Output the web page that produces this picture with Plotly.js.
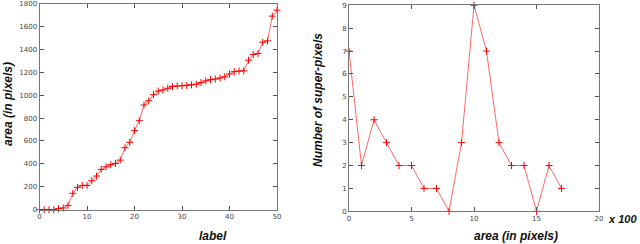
<!DOCTYPE html>
<html>
<head>
<meta charset="utf-8">
<script src="https://cdn.plot.ly/plotly-3.0.1.min.js"></script>
<style>html,body{margin:0;padding:0;background:#fff}#chart{width:640px;height:244px}</style>
</head>
<body>
<div id="chart"></div>
<script>
// Left chart: sorted super-pixel areas by label
const labels = [];
for (let i = 0; i <= 50; i++) labels.push(i);
const areas = [0,0,0,0,9,15,38,143,195,212,212,253,294,352,375,393,404,433,541,588,
  690,777,914,951,1004,1036,1045,1060,1075,1080,1082,1085,1090,1095,1110,1125,1135,1140,1150,1160,
  1185,1205,1210,1212,1305,1355,1364,1462,1474,1690,1742];
const leftYTicks = [0,200,400,600,800,1000,1200,1400,1600,1800];
const leftXTicks = [0,10,20,30,40,50];

// Right chart: histogram of areas (x 100 pixels)
const bins = [0,1,2,3,4,5,6,7,8,9,10,11,12,13,14,15,16,17];
const counts = [7,2,4,3,2,2,1,1,0,3,9,7,3,2,2,0,2,1];
const rightYTicks = [0,1,2,3,4,5,6,7,8,9];
const rightXTicks = [0,5,10,15,20];

const lineStyle = {color:'rgba(255,40,40,0.7)', width:1};
const markerStyle = {symbol:'cross-thin', size:5, color:'#ff0000', line:{color:'#ff0000', width:1}};

const traces = [
  {x:labels, y:areas, type:'scatter', mode:'lines+markers', line:lineStyle, marker:markerStyle, xaxis:'x', yaxis:'y', hoverinfo:'none', cliponaxis:false},
  {x:bins, y:counts, type:'scatter', mode:'lines+markers', line:lineStyle, marker:markerStyle, xaxis:'x2', yaxis:'y2', hoverinfo:'none', cliponaxis:false}
];

const tickFont = {family:'DejaVu Sans, Verdana, sans-serif', size:7, color:'#444'};
const axBase = {showgrid:false, zeroline:false, showline:true, linecolor:'#777', linewidth:1, mirror:'ticks',
  ticks:'inside', ticklen:4, tickcolor:'#555', tickwidth:1, tickfont:tickFont, fixedrange:true, ticklabeloverflow:'allow'};
const titleFont = {family:'Liberation Sans, Arial, sans-serif', size:12, color:'#111', weight:'bold', style:'italic'};
const smallTitleFont = Object.assign({}, titleFont, {size:11});

const layout = {
  width:640, height:244,
  margin:{l:0, r:0, t:0, b:0},
  paper_bgcolor:'#fff', plot_bgcolor:'#fff',
  showlegend:false,
  xaxis:Object.assign({}, axBase, {domain:[39.5/640, 277/640], range:[0,50], tickvals:leftXTicks, anchor:'y'}),
  yaxis:Object.assign({}, axBase, {domain:[1-209.7/244, 1-3.5/244], range:[0,1800], tickvals:leftYTicks, anchor:'x'}),
  xaxis2:Object.assign({}, axBase, {domain:[349/640, 599/640], range:[0,20], tickvals:rightXTicks, anchor:'y2'}),
  yaxis2:Object.assign({}, axBase, {domain:[1-211.3/244, 1-5.3/244], range:[0,9], tickvals:rightYTicks, anchor:'x2'}),
  annotations:[
    {text:'<b><i>label</i></b>', xref:'paper', yref:'paper', x:213/640, y:1-236/244, showarrow:false, font:titleFont, xanchor:'center', yanchor:'middle'},
    {text:'<b><i>area (in pixels)</i></b>', xref:'paper', yref:'paper', x:8/640, y:1-104/244, showarrow:false, font:titleFont, textangle:-90, xanchor:'center', yanchor:'middle'},
    {text:'<b><i>area (in pixels)</i></b>', xref:'paper', yref:'paper', x:516/640, y:1-236/244, showarrow:false, font:titleFont, xanchor:'center', yanchor:'middle'},
    {text:'<b><i>Number of super-pixels</i></b>', xref:'paper', yref:'paper', x:318/640, y:1-100/244, showarrow:false, font:titleFont, textangle:-90, xanchor:'center', yanchor:'middle'},
    {text:'<b><i>x 100</i></b>', xref:'paper', yref:'paper', x:638/640, y:1-219/244, showarrow:false, font:smallTitleFont, xanchor:'right', yanchor:'middle', borderpad:0}
  ]
};

Plotly.newPlot('chart', traces, layout, {displayModeBar:false, staticPlot:true});
</script>
</body>
</html>
